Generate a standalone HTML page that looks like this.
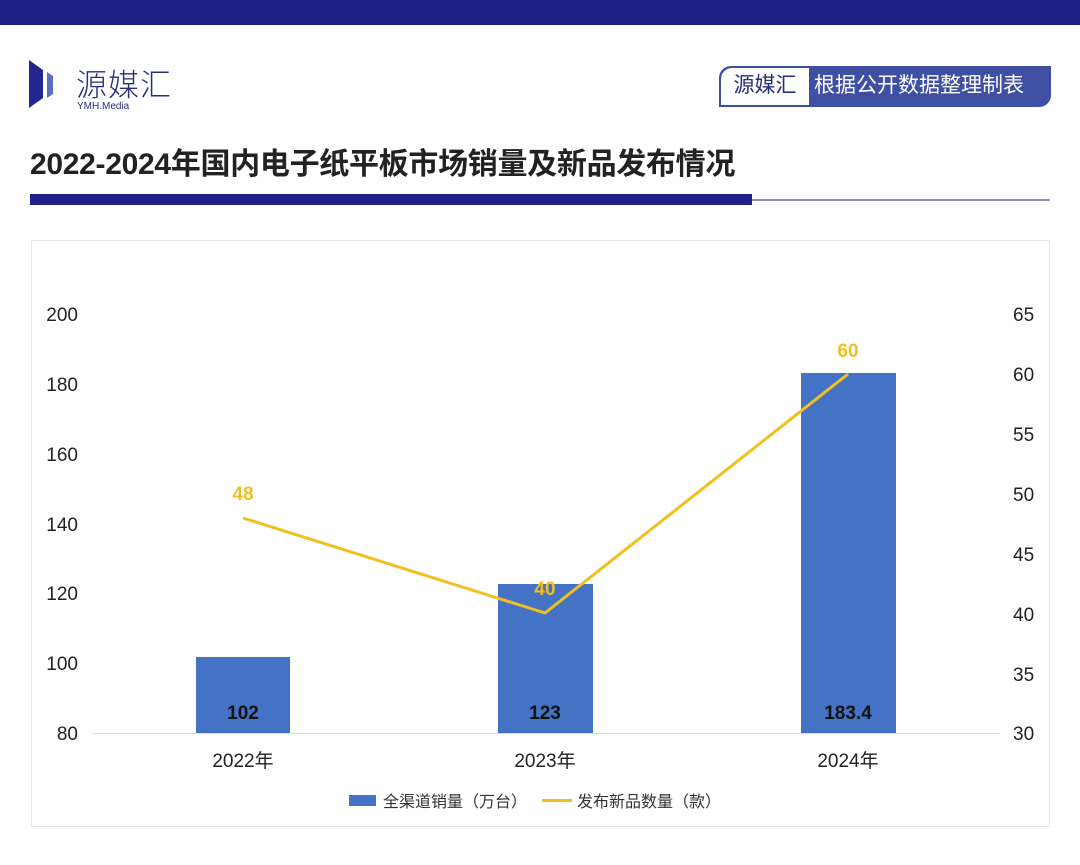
<!DOCTYPE html>
<html><head><meta charset="utf-8"><style>
body{margin:0;width:1080px;height:865px;background:#fff;overflow:hidden;font-family:"Liberation Sans","Noto Sans CJK SC",sans-serif;position:relative}
.a{position:absolute}
</style></head><body>
<div class="a" style="left:0;top:0;width:1080px;height:25px;background:#1f2189"></div>
<svg class="a" style="left:29px;top:60px" width="40" height="50"><polygon points="0,0 14,10 14,38 0,48" fill="#23278f"/><polygon points="18,12 24,16 24,34 18,38" fill="#5b6fc0"/></svg>
<div class="a" style="left:76px;top:60px;font-size:31px;color:#2a2d7a;letter-spacing:1px;font-weight:300">源媒汇</div>
<div class="a" style="left:77px;top:101px;font-size:10px;color:#2a2d7a">YMH.Media</div>
<div class="a" style="left:719px;top:66px;width:330px;height:39px;border-radius:12px 0 12px 0;background:#3f4fa3;border:1px solid #3f4fa3"></div>
<div class="a" style="left:721px;top:68px;width:88px;height:37px;background:#fff;border-radius:11px 0 0 0;font-size:21px;color:#2a2d7a;line-height:36px;text-align:center">源媒汇</div>
<div class="a" style="left:814px;top:68px;font-size:21px;color:#fff;line-height:36px">根据公开数据整理制表</div>
<div class="a" style="left:30px;top:139px;font-size:30px;font-weight:bold;color:#222;letter-spacing:-0.3px">2022-2024年国内电子纸平板市场销量及新品发布情况</div>
<div class="a" style="left:30px;top:194px;width:722px;height:11px;background:#1f2189"></div>
<div class="a" style="left:752px;top:199px;width:298px;height:2px;background:#8c8fb5"></div>
<div class="a" style="left:31px;top:240px;width:1017px;height:585px;border:1px solid #e6e6e6"></div>
<svg class="a" style="left:0;top:0" width="1080" height="865" font-family="Liberation Sans,Noto Sans CJK SC,sans-serif">
<g font-size="19" fill="#222">
<text x="78" y="321" text-anchor="end">200</text><text x="78" y="391" text-anchor="end">180</text><text x="78" y="461" text-anchor="end">160</text><text x="78" y="531" text-anchor="end">140</text><text x="78" y="600" text-anchor="end">120</text><text x="78" y="670" text-anchor="end">100</text><text x="78" y="740" text-anchor="end">80</text>
<text x="1013" y="321">65</text><text x="1013" y="381">60</text><text x="1013" y="441">55</text><text x="1013" y="501">50</text><text x="1013" y="561">45</text><text x="1013" y="621">40</text><text x="1013" y="681">35</text><text x="1013" y="740">30</text>
<text x="243" y="767" text-anchor="middle">2022年</text><text x="545" y="767" text-anchor="middle">2023年</text><text x="848" y="767" text-anchor="middle">2024年</text>
</g>
<rect x="196" y="657" width="94" height="76" fill="#4472c4"/>
<rect x="498" y="584" width="95" height="149" fill="#4472c4"/>
<rect x="801" y="373" width="95" height="360" fill="#4472c4"/>
<line x1="92" y1="733.5" x2="1000" y2="733.5" stroke="#d9d9d9"/>
<g font-size="19" font-weight="bold" fill="#111" text-anchor="middle">
<text x="243" y="719">102</text><text x="545" y="719">123</text><text x="848" y="719">183.4</text></g>
<polyline points="243,518 545,613 848,374" fill="none" stroke="#f0c020" stroke-width="3"/>
<g font-size="19" font-weight="bold" fill="#f0c020" text-anchor="middle">
<text x="243" y="500">48</text><text x="545" y="595">40</text><text x="848" y="357">60</text></g>
<rect x="349" y="795" width="27" height="11" fill="#4472c4"/>
<text x="383" y="807" font-size="16" fill="#333">全渠道销量（万台）</text>
<line x1="542" y1="800.5" x2="572" y2="800.5" stroke="#f0c020" stroke-width="3"/>
<text x="577" y="807" font-size="16" fill="#333">发布新品数量（款）</text>
</svg>
</body></html>
